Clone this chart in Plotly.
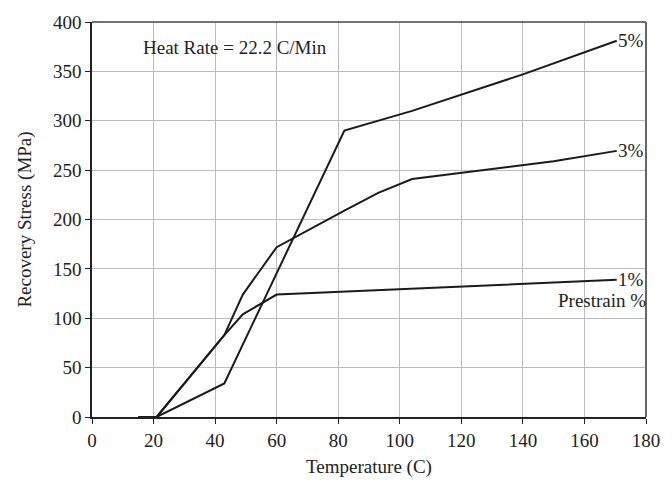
import plotly.graph_objects as go

# Data
temp_1 = [15, 21, 43, 49, 60, 170.5]
stress_1 = [0, 0, 83, 104, 124, 139]

temp_3 = [21, 43, 49, 60, 82, 93, 104, 150, 170.5]
stress_3 = [0, 83, 124, 172, 209, 227, 241, 259, 269.5]

temp_5 = [21, 43, 82, 93, 104, 140, 170.5]
stress_5 = [0, 34, 290, 300, 310, 347, 381]

series_labels = ["1%", "3%", "5%"]
x_ticks = [0, 20, 40, 60, 80, 100, 120, 140, 160, 180]
y_ticks = [0, 50, 100, 150, 200, 250, 300, 350, 400]

FONT = "Liberation Serif"
LINE = "#1a1a1a"
FS = 19

fig = go.Figure()
for tx, sy, lab in [(temp_1, stress_1, series_labels[0]),
                    (temp_3, stress_3, series_labels[1]),
                    (temp_5, stress_5, series_labels[2])]:
    fig.add_trace(go.Scatter(x=tx, y=sy, mode="lines", name=lab,
                             line=dict(color=LINE, width=2), showlegend=False))
    fig.add_annotation(x=tx[-1], y=sy[-1], text=lab, showarrow=False,
                       xanchor="left", yanchor="middle", xshift=-1,
                       font=dict(family=FONT, size=FS, color="#222"))

fig.add_annotation(xref="paper", x=1.0, y=stress_1[-1], text="Prestrain %", showarrow=False,
                   xanchor="right", yanchor="top", yshift=-8, xshift=2,
                   font=dict(family=FONT, size=FS, color="#222"))

fig.add_annotation(x=15.8, y=374, text="Heat Rate = 22.2 C/Min", showarrow=False,
                   xanchor="left", yanchor="middle",
                   font=dict(family=FONT, size=FS, color="#222"))

# top and right frame
fig.add_shape(type="line", xref="paper", yref="paper", x0=0, x1=1, y0=1, y1=1,
              line=dict(color="#444", width=1.5))
fig.add_shape(type="line", xref="paper", yref="paper", x0=1, x1=1, y0=0, y1=1,
              line=dict(color="#666", width=2))

fig.update_layout(
    width=672, height=486,
    margin=dict(l=92, r=16, t=17, b=68),
    paper_bgcolor="white", plot_bgcolor="white",
    font=dict(family=FONT, size=FS, color="#222"),
    xaxis=dict(range=[0, 180], tickvals=x_ticks, ticks="outside", ticklen=5,
               tickcolor="#222", showline=True, linecolor="#222", linewidth=1.5,
               showgrid=True, gridcolor="#bdbdbd", gridwidth=1, zeroline=False,
               title=dict(text="Temperature (C)", font=dict(family=FONT, size=FS), standoff=10),
               tickfont=dict(family=FONT, size=FS)),
    yaxis=dict(range=[0, 400], tickvals=y_ticks, ticks="outside", ticklen=5,
               tickcolor="#222", showline=True, linecolor="#222", linewidth=1.5,
               showgrid=True, gridcolor="#bdbdbd", gridwidth=1, zeroline=False,
               title=dict(text="Recovery Stress (MPa)", font=dict(family=FONT, size=FS), standoff=16),
               tickfont=dict(family=FONT, size=FS)),
)

fig.write_html("out.html")
